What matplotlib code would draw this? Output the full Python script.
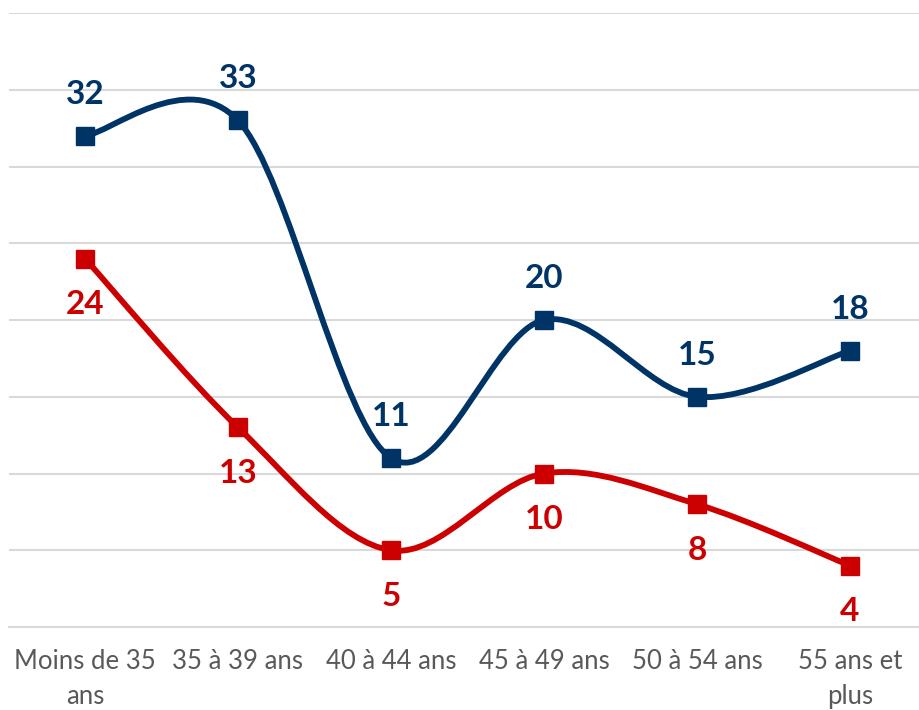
import numpy as np
import matplotlib
matplotlib.use("Agg")
import matplotlib.pyplot as plt
from matplotlib.path import Path
from matplotlib.patches import PathPatch

plt.rcParams['font.family'] = ['Lato', 'DejaVu Sans']

categories = ["Moins de 35\nans", "35 à 39 ans", "40 à 44 ans",
              "45 à 49 ans", "50 à 54 ans", "55 ans et\nplus"]
blue_vals = [32, 33, 11, 20, 15, 18]
red_vals = [24, 13, 5, 10, 8, 4]

BLUE = "#003366"
RED = "#cc0000"
GRID = "#d9d9d9"


def smooth_path(x, y):
    # Excel-like smoothed line: cubic bezier segments (Catmull-Rom style)
    n = len(x)
    verts = [(x[0], y[0])]
    codes = [Path.MOVETO]
    for i in range(n - 1):
        a = i - 1 if i > 0 else i
        b = i + 2 if i + 2 < n else i + 1
        c1 = (x[i] + (x[i + 1] - x[a]) / 6, y[i] + (y[i + 1] - y[a]) / 6)
        c2 = (x[i + 1] - (x[b] - x[i]) / 6, y[i + 1] - (y[b] - y[i]) / 6)
        verts += [c1, c2, (x[i + 1], y[i + 1])]
        codes += [Path.CURVE4] * 3
    return Path(verts, codes)


fig = plt.figure(figsize=(9.2, 7.1), dpi=100)
ax = fig.add_axes([8.5 / 920, 83 / 710, 918 / 920, 614 / 710])

x = np.arange(len(categories))

for vals, col, off in [(red_vals, RED, -33), (blue_vals, BLUE, 30)]:
    ax.add_patch(PathPatch(smooth_path(x, vals), facecolor="none", edgecolor=col,
                           lw=4.2, capstyle="round", joinstyle="round", zorder=3))
    ax.plot(x, vals, ls="none", marker="s", ms=13, color=col, zorder=4)
    for xi, v in zip(x, vals):
        ax.annotate(str(v), (xi, v), xytext=(0, off), textcoords="offset points",
                    ha="center", va="center", fontsize=24, fontweight="bold",
                    color=col, zorder=5)

ax.set_xlim(-0.5, 5.5)
ax.set_ylim(0, 40)
ax.set_yticks(np.arange(0, 41, 5))
ax.yaxis.grid(True, color=GRID, lw=1.5)
ax.set_axisbelow(True)
ax.tick_params(axis="y", left=False, labelleft=False)
ax.set_xticks(x)
ax.set_xticklabels(categories, fontsize=18.5, color="#595959", linespacing=1.5)
ax.tick_params(axis="x", length=0, pad=16)
for s in ["left", "right", "top"]:
    ax.spines[s].set_visible(False)
ax.spines["bottom"].set_color(GRID)
ax.spines["bottom"].set_linewidth(1.5)

fig.savefig("out.png", dpi=100)
